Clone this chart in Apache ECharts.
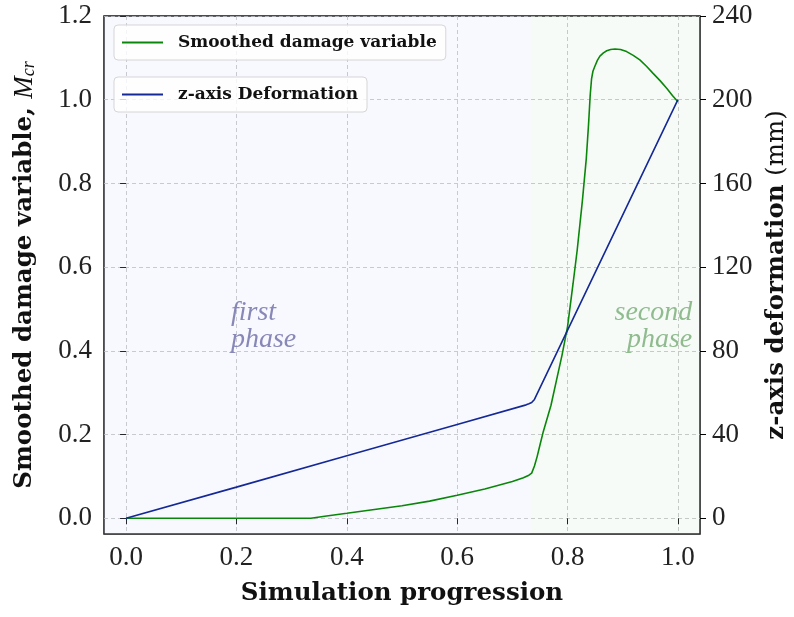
<!DOCTYPE html>
<html><head><meta charset="utf-8">
<script src="https://cdn.jsdelivr.net/npm/echarts@6/dist/echarts.min.js"></script>
<style>html,body{margin:0;padding:0;background:#fff;overflow:hidden}#c{width:794px;height:617px}</style>
</head><body><div id="c"></div>
<script>
// ---- data ----
const damageX = [0, 0.1, 0.2, 0.3, 0.335, 0.36, 0.4, 0.45, 0.5, 0.55, 0.6, 0.65, 0.7, 0.72, 0.73, 0.735, 0.74, 0.745, 0.75, 0.756, 0.77, 0.78, 0.79, 0.8, 0.81, 0.8175, 0.827, 0.834, 0.838, 0.841, 0.8435, 0.846, 0.8495, 0.854, 0.8586, 0.865, 0.871, 0.878, 0.886, 0.896, 0.907, 0.919, 0.931, 0.943, 0.955, 0.968, 0.98, 0.99, 1.0];
const damageY = [0, 0, 0, 0, 0, 0.005, 0.012, 0.021, 0.03, 0.041, 0.055, 0.07, 0.088, 0.097, 0.103, 0.108, 0.125, 0.148, 0.175, 0.207, 0.27, 0.33, 0.39, 0.458, 0.561, 0.641, 0.76, 0.86, 0.94, 1.01, 1.05, 1.068, 1.08, 1.094, 1.104, 1.112, 1.117, 1.12, 1.121, 1.12, 1.115, 1.106, 1.095, 1.08, 1.063, 1.045, 1.027, 1.01, 0.995];
const deformX = [0, 0.2, 0.4, 0.6, 0.725, 0.73, 0.735, 0.74, 1.0];
const deformY = [0, 14.9, 29.9, 44.8, 54.2, 54.7, 55.3, 56.8, 200];
const xTicks = [0, 0.2, 0.4, 0.6, 0.8, 1.0];
const leftTicks = [0, 0.2, 0.4, 0.6, 0.8, 1.0, 1.2];
const rightTicks = [0, 40, 80, 120, 160, 200, 240];
const phaseBoundary = 0.733;
const seriesNames = ['Smoothed damage variable', 'z-axis Deformation'];

const zip = (a, b) => a.map((v, i) => [v, b[i]]);
const X_MIN = -0.04, X_MAX = 1.04, YL_MIN = -0.0375, YL_MAX = 1.2, SCALE = 200;

const tickFont = 'Liberation Serif';
const titleFont = 'DejaVu Serif';
const gridLine = { show: true, lineStyle: { color: '#b8b8b8', type: [4, 3], width: 0.8 } };
const tickStyle = (vals) => ({ show: true, inside: false, length: 6, customValues: vals, lineStyle: { color: '#000', width: 1 } });
const legendBox = (name, top) => ({
  data: [name], left: 114, top: top, orient: 'vertical', itemWidth: 41, itemHeight: 14, padding: [9, 9, 9, 7],
  backgroundColor: 'rgba(255,255,255,0.8)', borderColor: '#d6d6d6', borderWidth: 1, borderRadius: 4,
  itemStyle: { color: 'rgba(0,0,0,0)', borderWidth: 0, opacity: 0 },
  textStyle: { fontFamily: titleFont, fontWeight: 'bold', fontSize: 17, color: '#111', padding: [0, 0, 0, 10] }
});

const chart = echarts.init(document.getElementById('c'), null, { renderer: 'canvas', width: 794, height: 617 });
chart.setOption({
  animation: false,
  backgroundColor: '#fff',
  grid: { left: 104, right: 94, top: 16, bottom: 83, show: true, borderColor: '#111', borderWidth: 1.5, backgroundColor: 'transparent',
          containLabel: false, outerBoundsMode: 'none' },
  legend: [legendBox(seriesNames[0], 25), legendBox(seriesNames[1], 77)],
  xAxis: {
    type: 'value', min: X_MIN, max: X_MAX,
    name: 'Simulation progression', nameLocation: 'middle', nameGap: 47,
    nameTextStyle: { fontFamily: titleFont, fontWeight: 'bold', fontSize: 24.5, color: '#111' },
    axisLine: { show: false }, axisTick: tickStyle(xTicks), splitLine: gridLine,
    axisLabel: { customValues: xTicks, margin: 10, fontFamily: tickFont, fontSize: 27, color: '#222', formatter: v => v.toFixed(1) }
  },
  yAxis: [
    { type: 'value', min: YL_MIN, max: YL_MAX, position: 'left',
      name: '{b|Smoothed damage variable, }{i|M}{s|cr}', nameLocation: 'middle', nameGap: 66, nameRotate: 90,
      nameTextStyle: { rich: {
        b: { fontFamily: titleFont, fontWeight: 'bold', fontSize: 24.5, color: '#111' },
        i: { fontFamily: 'Liberation Serif', fontStyle: 'italic', fontSize: 27, color: '#111' },
        s: { fontFamily: 'Liberation Serif', fontStyle: 'italic', fontSize: 18, color: '#111', verticalAlign: 'bottom', padding: [8, 0, 0, 0] } } },
      axisLine: { show: false }, axisTick: tickStyle(leftTicks), splitLine: gridLine,
      axisLabel: { customValues: leftTicks, margin: 12, fontFamily: tickFont, fontSize: 27, color: '#222', formatter: v => v.toFixed(1) } },
    { type: 'value', min: YL_MIN * SCALE, max: YL_MAX * SCALE, position: 'right',
      name: '{b|z-axis deformation }{r|(mm)}', nameLocation: 'middle', nameGap: 64, nameRotate: 90,
      nameTextStyle: { rich: {
        b: { fontFamily: titleFont, fontWeight: 'bold', fontSize: 24.5, color: '#111' },
        r: { fontFamily: titleFont, fontSize: 24.5, color: '#111' } } },
      axisLine: { show: false }, axisTick: tickStyle(rightTicks), splitLine: { show: false },
      axisLabel: { customValues: rightTicks, margin: 12, fontFamily: tickFont, fontSize: 27, color: '#222', formatter: v => String(Math.round(v)) } }
  ],
  series: [
    { name: seriesNames[0], type: 'line', yAxisIndex: 0, data: zip(damageX, damageY), symbol: 'none', smooth: false,
      lineStyle: { color: '#0a870a', width: 1.6 }, itemStyle: { color: '#0a870a' }, z: 3,
      markArea: { silent: true, data: [
        [{ xAxis: X_MIN, itemStyle: { color: 'rgba(215,215,255,0.18)' } }, { xAxis: phaseBoundary }],
        [{ xAxis: phaseBoundary, itemStyle: { color: 'rgba(200,225,200,0.15)' } }, { xAxis: X_MAX }]
      ] },
      markPoint: { silent: true, symbol: 'circle', symbolSize: 0, data: [
        { coord: [0.19, 0.46], label: { show: true, position: 'right', distance: 0, formatter: 'first\nphase', align: 'left',
          fontFamily: 'Liberation Serif', fontStyle: 'italic', fontSize: 28, lineHeight: 27, color: '#8888b8' } },
        { coord: [1.026, 0.46], label: { show: true, position: 'left', distance: 0, formatter: 'second\nphase', align: 'right',
          fontFamily: 'Liberation Serif', fontStyle: 'italic', fontSize: 28, lineHeight: 27, color: '#8fbb8f' } }
      ] } },
    { name: seriesNames[1], type: 'line', yAxisIndex: 1, data: zip(deformX, deformY), symbol: 'none', smooth: false,
      lineStyle: { color: '#142896', width: 1.6 }, itemStyle: { color: '#142896' }, z: 3 }
  ]
});
</script></body></html>
